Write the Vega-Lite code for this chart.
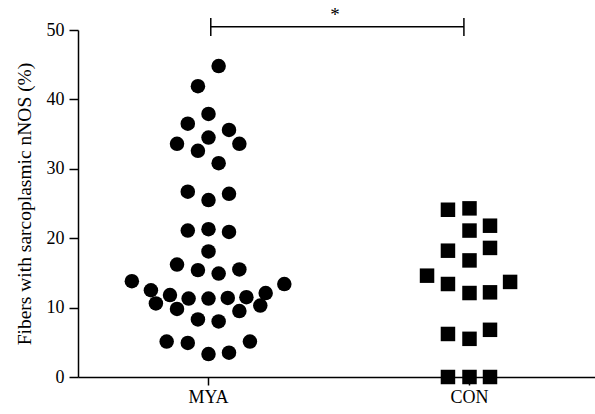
{
  "$schema": "https://vega.github.io/schema/vega-lite/v6.json",
  "width": 522,
  "height": 347,
  "autosize": "none",
  "padding": {"left": 78, "top": 30, "right": 0, "bottom": 37},
  "background": "white",
  "config": {
    "view": {"stroke": null},
    "font": "Liberation Serif",
    "axis": {
      "grid": false,
      "domainColor": "black",
      "tickColor": "black",
      "labelColor": "black",
      "titleColor": "black",
      "labelFont": "Liberation Serif",
      "titleFont": "Liberation Serif",
      "labelFontSize": 18,
      "titleFontSize": 19.5,
      "titleFontWeight": "normal",
      "domainWidth": 1.5,
      "tickWidth": 1.5
    }
  },
  "datasets": {
    "points": [
      {"group": "MYA", "value": 44.8, "jitter": 0.49},
      {"group": "MYA", "value": 41.9, "jitter": -0.51},
      {"group": "MYA", "value": 37.9, "jitter": 0},
      {"group": "MYA", "value": 36.5, "jitter": -1.0},
      {"group": "MYA", "value": 35.6, "jitter": 0.99},
      {"group": "MYA", "value": 34.5, "jitter": 0},
      {"group": "MYA", "value": 33.6, "jitter": -1.52},
      {"group": "MYA", "value": 33.6, "jitter": 1.49},
      {"group": "MYA", "value": 32.6, "jitter": -0.51},
      {"group": "MYA", "value": 30.8, "jitter": 0.49},
      {"group": "MYA", "value": 26.7, "jitter": -1.0},
      {"group": "MYA", "value": 26.4, "jitter": 0.99},
      {"group": "MYA", "value": 25.5, "jitter": 0},
      {"group": "MYA", "value": 21.1, "jitter": -1.0},
      {"group": "MYA", "value": 21.3, "jitter": 0},
      {"group": "MYA", "value": 20.9, "jitter": 0.99},
      {"group": "MYA", "value": 18.1, "jitter": 0},
      {"group": "MYA", "value": 16.2, "jitter": -1.52},
      {"group": "MYA", "value": 15.4, "jitter": -0.51},
      {"group": "MYA", "value": 14.9, "jitter": 0.49},
      {"group": "MYA", "value": 15.5, "jitter": 1.49},
      {"group": "MYA", "value": 13.8, "jitter": -3.7},
      {"group": "MYA", "value": 13.4, "jitter": 3.66},
      {"group": "MYA", "value": 12.5, "jitter": -2.78},
      {"group": "MYA", "value": 12.1, "jitter": 2.76},
      {"group": "MYA", "value": 11.8, "jitter": -1.86},
      {"group": "MYA", "value": 11.3, "jitter": -0.96},
      {"group": "MYA", "value": 11.3, "jitter": 0},
      {"group": "MYA", "value": 11.4, "jitter": 0.93},
      {"group": "MYA", "value": 11.5, "jitter": 1.83},
      {"group": "MYA", "value": 10.6, "jitter": -2.54},
      {"group": "MYA", "value": 10.3, "jitter": 2.5},
      {"group": "MYA", "value": 9.8, "jitter": -1.52},
      {"group": "MYA", "value": 9.5, "jitter": 1.49},
      {"group": "MYA", "value": 8.3, "jitter": -0.51},
      {"group": "MYA", "value": 8.0, "jitter": 0.49},
      {"group": "MYA", "value": 5.1, "jitter": -2.02},
      {"group": "MYA", "value": 4.9, "jitter": -1.0},
      {"group": "MYA", "value": 5.1, "jitter": 2.0},
      {"group": "MYA", "value": 3.3, "jitter": 0},
      {"group": "MYA", "value": 3.5, "jitter": 0.99},
      {"group": "CON", "value": 24.1, "jitter": -1.04},
      {"group": "CON", "value": 24.3, "jitter": 0},
      {"group": "CON", "value": 21.1, "jitter": 0},
      {"group": "CON", "value": 21.8, "jitter": 0.99},
      {"group": "CON", "value": 18.2, "jitter": -1.04},
      {"group": "CON", "value": 18.6, "jitter": 0.99},
      {"group": "CON", "value": 16.8, "jitter": 0},
      {"group": "CON", "value": 14.6, "jitter": -2.05},
      {"group": "CON", "value": 13.4, "jitter": -1.04},
      {"group": "CON", "value": 13.7, "jitter": 1.96},
      {"group": "CON", "value": 12.1, "jitter": 0},
      {"group": "CON", "value": 12.2, "jitter": 0.99},
      {"group": "CON", "value": 6.2, "jitter": -1.04},
      {"group": "CON", "value": 6.8, "jitter": 0.99},
      {"group": "CON", "value": 5.5, "jitter": 0},
      {"group": "CON", "value": 0, "jitter": -1.04},
      {"group": "CON", "value": 0, "jitter": 0},
      {"group": "CON", "value": 0, "jitter": 0.99}
    ],
    "bracket": [
      {"group": "MYA", "off": 0.11, "y": 50.47, "ylo": 49.13, "yhi": 51.73},
      {"group": "CON", "off": -0.27, "y": 50.47, "ylo": 49.13, "yhi": 51.73}
    ],
    "star": [
      {"group": "MYA", "off": 6.11, "y": 52.1, "label": "*"}
    ]
  },
  "layer": [
    {
      "data": {"name": "points"},
      "mark": {"type": "point", "filled": true, "opacity": 1, "size": 210, "clip": false, "strokeWidth": 0},
      "encoding": {
        "x": {
          "field": "group", "type": "nominal", "sort": ["MYA", "CON"],
          "scale": {"domain": ["MYA", "CON"], "paddingInner": 0, "paddingOuter": 0},
          "axis": {"title": null, "labelAngle": 0, "tickSize": 8, "labelPadding": 3, "bandPosition": 0.5}
        },
        "xOffset": {"field": "jitter", "type": "quantitative", "scale": {"domain": [-6.3, 6.3]}},
        "y": {
          "field": "value", "type": "quantitative",
          "scale": {"domain": [0, 50], "nice": false, "zero": true},
          "axis": {"title": "Fibers with sarcoplasmic nNOS (%)", "values": [0, 10, 20, 30, 40, 50], "tickSize": 9, "labelPadding": 5, "titlePadding": 12}
        },
        "shape": {"field": "group", "type": "nominal", "scale": {"domain": ["MYA", "CON"], "range": ["circle", "square"]}, "legend": null},
        "color": {"value": "black"}
      }
    },
    {
      "data": {"name": "bracket"},
      "mark": {"type": "line", "color": "black", "strokeWidth": 1.5, "clip": false},
      "encoding": {
        "x": {"field": "group", "type": "nominal", "sort": ["MYA", "CON"]},
        "xOffset": {"field": "off", "type": "quantitative"},
        "y": {"field": "y", "type": "quantitative"}
      }
    },
    {
      "data": {"name": "bracket"},
      "mark": {"type": "rule", "color": "black", "strokeWidth": 1.5, "clip": false},
      "encoding": {
        "x": {"field": "group", "type": "nominal", "sort": ["MYA", "CON"]},
        "xOffset": {"field": "off", "type": "quantitative"},
        "y": {"field": "ylo", "type": "quantitative"},
        "y2": {"field": "yhi"}
      }
    },
    {
      "data": {"name": "star"},
      "mark": {"type": "text", "color": "black", "fontSize": 19, "baseline": "middle", "align": "center", "font": "Liberation Serif", "clip": false},
      "encoding": {
        "x": {"field": "group", "type": "nominal", "sort": ["MYA", "CON"]},
        "xOffset": {"field": "off", "type": "quantitative"},
        "y": {"field": "y", "type": "quantitative"},
        "text": {"field": "label"}
      }
    }
  ]
}
